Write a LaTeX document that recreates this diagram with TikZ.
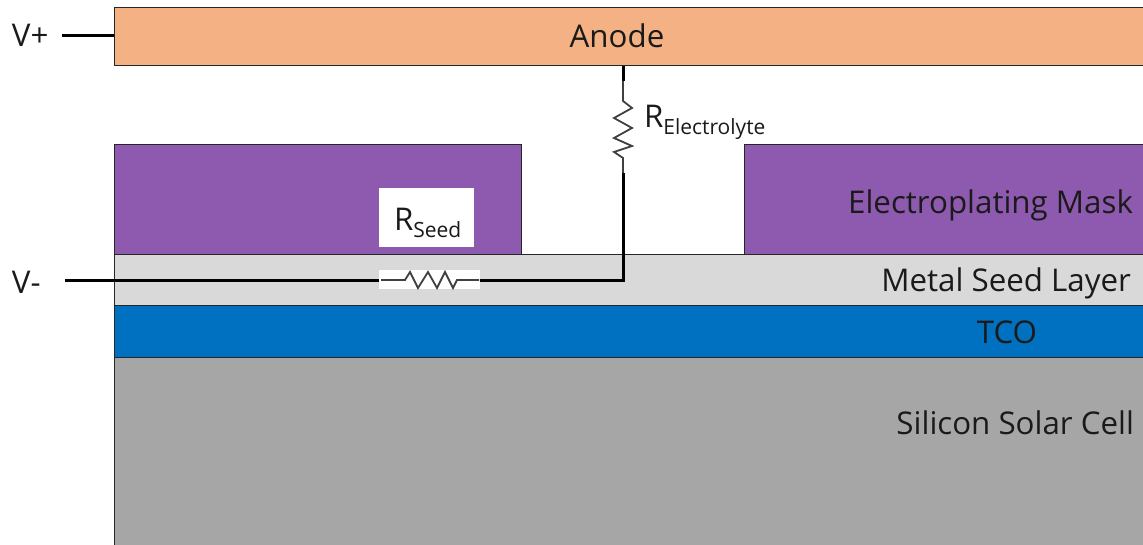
\documentclass[tikz,border=0pt]{standalone}
\usepackage{fontspec}
\setmainfont{Open Sans}
\definecolor{anodec}{HTML}{F4B183}
\definecolor{maskc}{HTML}{8E5AB0}
\definecolor{seedc}{HTML}{D9D9D9}
\definecolor{tcoc}{HTML}{0070C0}
\definecolor{sic}{HTML}{A6A6A6}
\definecolor{txt}{HTML}{1A1A1A}
\tikzset{
  layer/.style={draw=black!85,line width=1pt,inner sep=0pt,outer sep=0pt,anchor=north west,text=txt},
  lbl/.style={inner sep=0pt,outer sep=0pt,text=txt,font=\fontsize{31.3}{34}\selectfont},
  lead/.style={draw=black,line width=3pt,line cap=butt,line join=miter},
  thinres/.style={draw=black!75,line width=1.8pt,line join=miter}
}
\newcommand{\subtxt}[1]{\raisebox{-6.5pt}{\fontsize{21}{23}\selectfont #1}}
\begin{document}
\begin{tikzpicture}[x=1pt,y=-1pt]
\useasboundingbox (0,0) rectangle (1143,545);
\clip (0,0) rectangle (1143,545);
% layers
\node[layer,fill=sic,minimum width=1040pt,minimum height=200pt] (silicon) at (114,357.5) {};
\node[layer,fill=tcoc,minimum width=1040pt,minimum height=52pt] (tco) at (114,305.5) {};
\node[layer,fill=seedc,minimum width=1040pt,minimum height=51pt] (seed) at (114,254.5) {};
\node[layer,fill=maskc,minimum width=407pt,minimum height=110pt] (maskl) at (114,144.5) {};
\node[layer,fill=maskc,minimum width=410pt,minimum height=110pt] (maskr) at (744,144.5) {};
\node[layer,fill=anodec,minimum width=1040pt,minimum height=58pt] (anode) at (114,8) {};
% white boxes
\node[fill=white,inner sep=0pt,outer sep=0pt,minimum width=95pt,minimum height=59pt,anchor=north west] (rseedbox) at (379,188) {};
\node[fill=white,inner sep=0pt,outer sep=0pt,minimum width=101pt,minimum height=19pt,anchor=north west] (rseedres) at (379,270) {};
% texts
\node[lbl,anchor=base] (anodet) at (617,48) {Anode};
\node[lbl,anchor=base east] (maskt) at (1133,214) {Electroplating Mask};
\node[lbl,anchor=base east] (seedt) at (1131,292) {Metal Seed Layer};
\node[lbl,anchor=base] (tcot) at (1007,343) {TCO};
\node[lbl,anchor=base east] (sit) at (1134,434) {Silicon Solar Cell};
\node[lbl,anchor=base west] (vp) at (12,47) {V+};
\node[lbl,anchor=base west] (vm) at (12,294) {V-};
\node[lbl,anchor=base west] (rseedt) at (394,231) {R\subtxt{Seed}};
\node[lbl,anchor=base west] (relt) at (644,128) {R\subtxt{Electrolyte}};
% connectors
\coordinate (vpend) at (62,36);
\coordinate (vmend) at (65,281);
\coordinate (corner) at (623,281);
\coordinate (a1) at (623,66);
\coordinate (a2) at (623,81);
\coordinate (a3) at (623,173);
\coordinate (s1) at (379,281);
\coordinate (s2) at (480,281);
\draw[lead] (vpend) -- (vpend -| anode.west);
\draw[lead] (a1) -- (a2);
\draw[lead] (a3) -- (corner) -- (s2);
\draw[lead] (vmend) -- (s1);
% electrolyte resistor
\draw[thinres] (a2) -- (623,101) -- (632,108) -- (614,118) -- (632,128) -- (614,138) -- (632,146) -- (614,152) -- (623,158) -- (a3);
% seed resistor
\draw[thinres] (381,280) -- (405,280) -- (410,272) -- (418,288) -- (428,272) -- (437,288) -- (445,272) -- (453,288) -- (457,280) -- (479,280);
\end{tikzpicture}
\end{document}
